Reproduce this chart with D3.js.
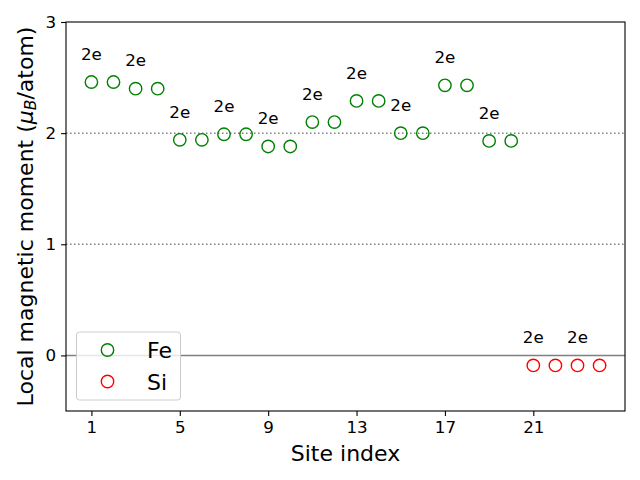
<!DOCTYPE html>
<html><head><meta charset="utf-8">
<script src="https://cdn.jsdelivr.net/npm/d3@7"></script>
<style>body{margin:0;background:#fff}svg{display:block}text{font-family:"DejaVu Sans",sans-serif}</style>
</head><body>
<script>
const feSites = [1,2,3,4,5,6,7,8,9,10,11,12,13,14,15,16,17,18,19,20];
const feValues = [2.46,2.46,2.40,2.40,1.94,1.94,1.99,1.99,1.88,1.88,2.10,2.10,2.29,2.29,2.00,2.00,2.43,2.43,1.93,1.93];
const siSites = [21,22,23,24];
const siValues = [-0.09,-0.09,-0.09,-0.09];
const labelSites = [1,3,5,7,9,11,13,15,17,19,21,23];
const labelText = "2e";
const xTicks = [1,5,9,13,17,21];
const yTicks = [0,1,2,3];
const refLines = [1,2];

const W=640,H=480;
const L=66,R=625,T=22,B=411;
const svg=d3.select("body").append("svg").attr("width",W).attr("height",H);
const x=d3.scaleLinear().domain([-0.15,25.15]).range([L,R]);
const y=d3.scaleLinear().domain([-0.5,3]).range([B,T]);

const allSites=feSites.concat(siSites), allVals=feValues.concat(siValues);
const valAt = s => allVals[allSites.indexOf(s)];

// reference lines
svg.selectAll("line.ref").data(refLines).enter().append("line")
  .attr("x1",L).attr("x2",R).attr("y1",d=>y(d)).attr("y2",d=>y(d))
  .attr("stroke","#808080").attr("stroke-width",1.5).attr("stroke-dasharray","1.5,2.5");
svg.append("line").attr("x1",L).attr("x2",R).attr("y1",y(0)).attr("y2",y(0))
  .attr("stroke","#808080").attr("stroke-width",1.5);

// axes
const xAxis=d3.axisBottom(x).tickValues(xTicks).tickSize(4.9).tickPadding(4.9).tickFormat(d3.format("d"));
const yAxis=d3.axisLeft(y).tickValues(yTicks).tickSize(4.9).tickPadding(4.9).tickFormat(d3.format("d"));
const gx=svg.append("g").attr("transform",`translate(0,${B})`).call(xAxis);
const gy=svg.append("g").attr("transform",`translate(${L},0)`).call(yAxis);
[gx,gy].forEach(g=>{g.select(".domain").remove();
  g.selectAll(".tick line").attr("stroke","#000").attr("stroke-width",1.1);
  g.selectAll(".tick text").attr("font-size","16.7px").attr("fill","#000").attr("font-family","DejaVu Sans");});
svg.append("rect").attr("x",L).attr("y",T).attr("width",R-L).attr("height",B-T)
  .attr("fill","none").attr("stroke","#000").attr("stroke-width",1.1);

// points
svg.selectAll("circle.fe").data(feSites).enter().append("circle")
  .attr("cx",d=>x(d)).attr("cy",(d,i)=>y(feValues[i])).attr("r",6.2)
  .attr("fill","none").attr("stroke","green").attr("stroke-width",1.4);
svg.selectAll("circle.si").data(siSites).enter().append("circle")
  .attr("cx",d=>x(d)).attr("cy",(d,i)=>y(siValues[i])).attr("r",6.2)
  .attr("fill","none").attr("stroke","red").attr("stroke-width",1.4);

// annotations
svg.selectAll("text.ann").data(labelSites).enter().append("text")
  .attr("x",d=>x(d)).attr("y",d=>y(valAt(d)+0.2)).attr("text-anchor","middle")
  .attr("font-size","16.7px").attr("fill","#000").text(labelText);

// axis labels
svg.append("text").attr("x",(L+R)/2).attr("y",461).attr("text-anchor","middle")
  .attr("font-size","22px").text("Site index");
const yl=svg.append("text").attr("transform",`translate(33,${(T+B)/2}) rotate(-90)`)
  .attr("text-anchor","middle").attr("font-size","22px");
yl.append("tspan").text("Local magnetic moment (");
yl.append("tspan").attr("font-style","italic").text("μ");
yl.append("tspan").attr("font-style","italic").attr("font-size","15.5px").attr("dy","3").text("B");
yl.append("tspan").attr("dy","-3").text("/atom)");

// legend
const lg=svg.append("g");
lg.append("rect").attr("x",76.5).attr("y",332).attr("width",104).attr("height",68).attr("rx",3)
  .attr("fill","#fff").attr("fill-opacity",0.8).attr("stroke","#ccc").attr("stroke-width",1);
const legItems=[{name:"Fe",color:"green"},{name:"Si",color:"red"}];
legItems.forEach((it,i)=>{
  const cy=350+i*31.5;
  lg.append("circle").attr("cx",107.5).attr("cy",cy).attr("r",6.2).attr("fill","none")
    .attr("stroke",it.color).attr("stroke-width",1.4);
  lg.append("text").attr("x",147).attr("y",cy+8).attr("font-size","22px").text(it.name);
});
</script>
</body></html>
